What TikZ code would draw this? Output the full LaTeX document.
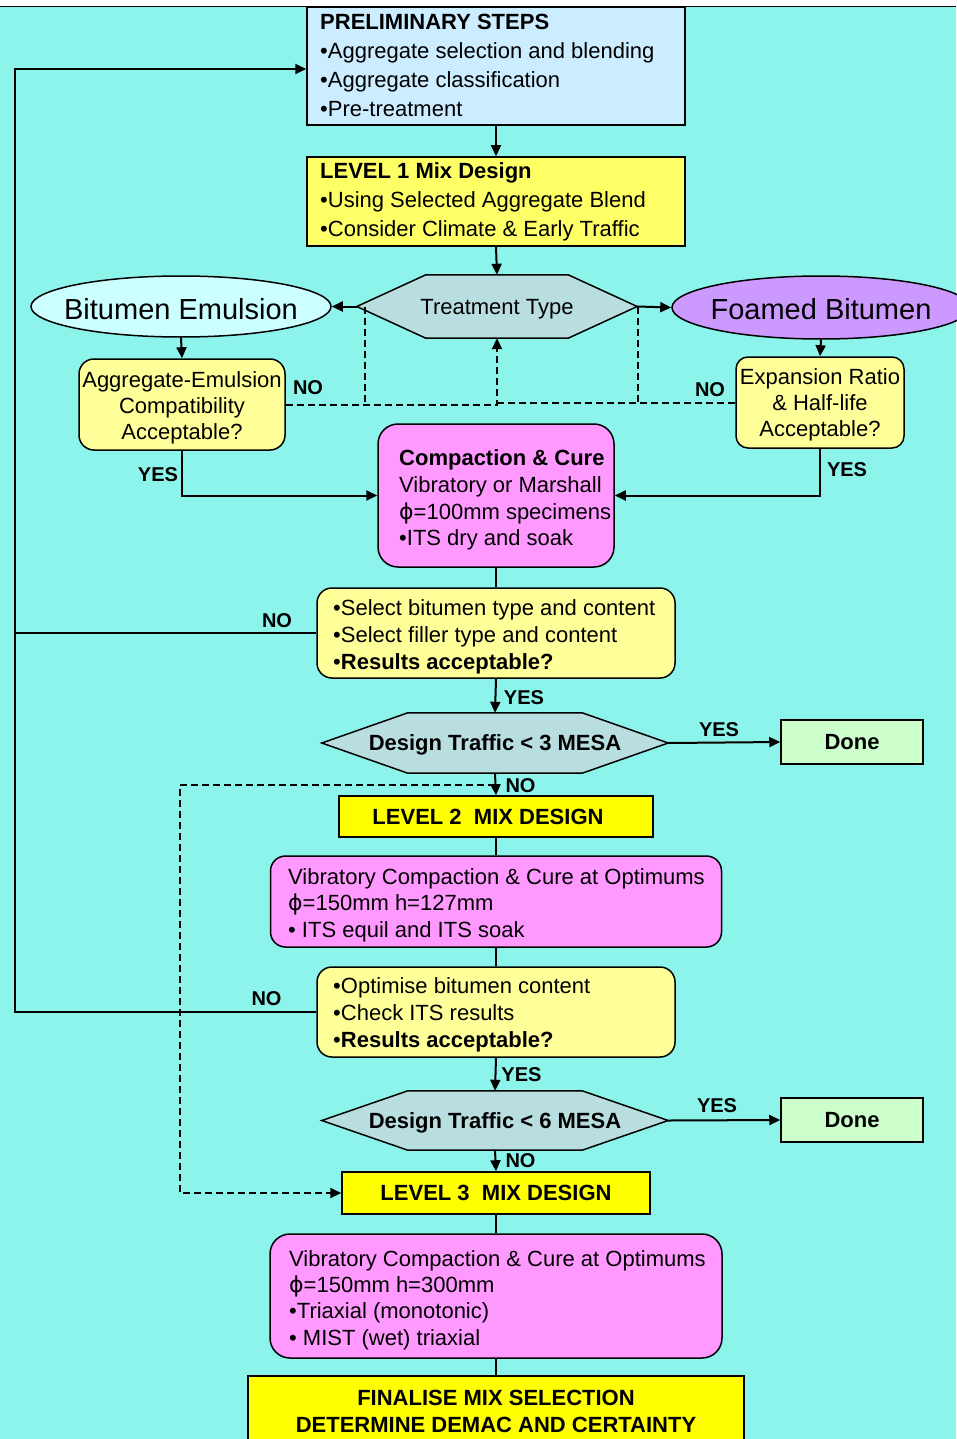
\documentclass[tikz,border=0pt]{standalone}
\usepackage{fontspec}
\setmainfont{Liberation Sans}
\newfontfamily\dejavu{DejaVu Sans}
\usetikzlibrary{arrows.meta,shapes.geometric,backgrounds,calc}
\definecolor{bgc}{RGB}{140,244,234}
\definecolor{prelimc}{RGB}{204,236,255}
\definecolor{lvlonec}{RGB}{255,255,102}
\definecolor{hexc}{RGB}{185,222,224}
\definecolor{bec}{RGB}{204,255,255}
\definecolor{fbc}{RGB}{204,153,255}
\definecolor{qc}{RGB}{255,255,153}
\definecolor{pinkc}{RGB}{255,153,255}
\definecolor{donec}{RGB}{204,255,204}
\definecolor{yelc}{RGB}{255,255,0}
\newcommand{\myphi}{{\dejavu ϕ}}
\newcommand{\mybody}{\fontsize{22}{29}\selectfont}
\newcommand{\mybig}{\fontsize{29}{34}\selectfont}
\newcommand{\myq}{\fontsize{22}{26}\selectfont}
\newcommand{\mycomp}{\fontsize{22}{26.7}\selectfont}
\newcommand{\mysel}{\fontsize{22}{27}\selectfont}
\newcommand{\myvib}{\fontsize{22}{26.4}\selectfont}
\newcommand{\mylab}{\fontsize{20}{24}\selectfont\bfseries}
\newcommand{\mybold}{\fontsize{22}{27}\selectfont\bfseries}
\begin{document}
\begin{tikzpicture}[x=1pt,y=-1pt,
  conn/.style={line width=2pt},
  arr/.style={conn,-{Triangle[length=11pt,width=10pt]}},
  dsh/.style={line width=2pt,dash pattern=on 7pt off 4pt},
  darr/.style={dsh,-{Triangle[length=11pt,width=10pt]}},
  box/.style={draw,line width=1.5pt,inner sep=0pt},
  rbox/.style={box,rounded corners=15pt},
  txt/.style={font=\mybody,align=left,inner sep=0pt,anchor=west},
  ctxt/.style={font=\myq,align=center,inner sep=0pt},
  lab/.style={font=\mylab,inner sep=0pt},
  hexnode/.style={font=\mybold,inner sep=0pt,text depth=0pt},
  hexfill/.style={fill=hexc,draw=black,line width=1.5pt}
]
\useasboundingbox (0,0) rectangle (956,1439);
\begin{scope}[on background layer]
  \fill[white] (0,0) rectangle (956,1439);
  \fill[bgc] (0,7) rectangle (956,1439);
  \draw[line width=1.7pt] (0,6.5) -- (956,6.5);
\end{scope}

% top boxes
\node[box,fill=prelimc,minimum width=378pt,minimum height=118pt] (prelim) at (496,66) {};
\node[txt] (prelimt) at (320,65.5) {\textbf{PRELIMINARY STEPS}\\•Aggregate selection and blending\\•Aggregate classification\\•Pre-treatment};
\node[box,fill=lvlonec,minimum width=378pt,minimum height=89pt] (lvl1) at (496,201.5) {};
\node[txt] (lvl1t) at (320,202) {\textbf{LEVEL 1 Mix Design}\\•Using Selected Aggregate Blend\\•Consider Climate \& Early Traffic};

% treatment type
\node[font=\mybody,inner sep=0pt,text depth=0pt,minimum width=280pt,minimum height=63pt] (tt) at (497,306.5) {Treatment Type};
\node[ellipse,draw,line width=1.5pt,fill=bec,inner sep=0pt,minimum width=300pt,minimum height=61pt] (be) at (181,306.5) {};
\node[font=\mybig,inner sep=0pt,text depth=0pt] (bet) at (181,308.5) {Bitumen Emulsion};
\node[ellipse,draw,line width=1.5pt,fill=fbc,inner sep=0pt,minimum width=298pt,minimum height=63pt] (fb) at (821,307.5) {};
\node[font=\mybig,inner sep=0pt,text depth=0pt] (fbt) at (821,309) {Foamed Bitumen};

\node[rbox,fill=qc,minimum width=206pt,minimum height=91pt] (ae) at (182,404.5) {};
\node[ctxt] (aet) at (182,407.5) {Aggregate-Emulsion\\Compatibility\\Acceptable?};
\node[rbox,rounded corners=12pt,fill=qc,minimum width=168pt,minimum height=91pt] (exp) at (820,402.5) {};
\node[ctxt] (expt) at (820,405) {Expansion Ratio\\\& Half-life\\Acceptable?};

\node[rbox,rounded corners=20pt,fill=pinkc,minimum width=236pt,minimum height=143pt] (comp) at (496,495.5) {};
\node[txt,font=\mycomp] (compt) at (399,500) {\textbf{Compaction \& Cure}\\Vibratory or Marshall\\\myphi=100mm specimens\\•ITS dry and soak};

\node[rbox,fill=qc,minimum width=358pt,minimum height=90pt] (sel) at (496,633) {};
\node[txt,font=\mysel] (selt) at (333,637) {•Select bitumen type and content\\•Select filler type and content\\•\textbf{Results acceptable?}};

\node[hexnode,minimum width=346pt,minimum height=60pt] (dt1) at (495,743) {Design Traffic < 3 MESA};
\node[box,fill=donec,minimum width=142pt,minimum height=44pt,font=\mybold,text depth=0pt] (done1) at (852,742) {Done};

\node[box,fill=yelc,minimum width=314pt,minimum height=41pt,font=\mybold,text depth=0pt] (lvl2) at (496,816.5) {LEVEL 2\ \ MIX DESIGN\rule{16pt}{0pt}};

\node[rbox,fill=pinkc,minimum width=451pt,minimum height=91pt] (vib2) at (496,901.5) {};
\node[txt,font=\myvib] (vib2t) at (288,905) {Vibratory Compaction \& Cure at Optimums\\\myphi=150mm h=127mm\\• ITS equil and ITS soak};

\node[rbox,fill=qc,minimum width=358pt,minimum height=90pt] (opt) at (496,1012) {};
\node[txt,font=\mysel] (optt) at (333,1015) {•Optimise bitumen content\\•Check ITS results\\•\textbf{Results acceptable?}};

\node[hexnode,minimum width=346pt,minimum height=59pt] (dt2) at (495,1120.5) {Design Traffic < 6 MESA};
\node[box,fill=donec,minimum width=142pt,minimum height=44pt,font=\mybold,text depth=0pt] (done2) at (852,1120) {Done};

\node[box,fill=yelc,minimum width=308pt,minimum height=42pt,font=\mybold,text depth=0pt] (lvl3) at (496,1193) {LEVEL 3\ \ MIX DESIGN};

\node[rbox,rounded corners=20pt,fill=pinkc,minimum width=452pt,minimum height=124pt] (vib3) at (496,1296) {};
\node[txt,font=\myvib] (vib3t) at (289,1300) {Vibratory Compaction \& Cure at Optimums\\\myphi=150mm h=300mm\\•Triaxial (monotonic)\\• MIST (wet) triaxial};

\node[box,fill=yelc,minimum width=496pt,minimum height=70pt,font=\mybold,align=center] (final) at (496,1411) {FINALISE MIX SELECTION\\DETERMINE DEMAC AND CERTAINTY};

% hexagon outlines
\begin{scope}[on background layer]
  \foreach \h/\d in {tt/69pt,dt1/86pt,dt2/86pt}{
    \filldraw[hexfill] (\h.west) -- ([xshift=\d]\h.north west) -- ([xshift=-\d]\h.north east) -- (\h.east) -- ([xshift=-\d]\h.south east) -- ([xshift=\d]\h.south west) -- cycle;
  }
\end{scope}

% coordinates for loops
\coordinate (lt) at (15,69);
\coordinate (dl) at (180,785);

% connectors
\draw[arr] (prelim.south) -- (lvl1.north);
\draw[arr] (lvl1.south) -- (tt.north);
\draw[arr] (tt.west) -- (be.east);
\draw[arr] (tt.east) -- (fb.west);
\draw[arr] (be.south) -- (ae.north);
\draw[arr] (fb.south) -- (exp.north);
\draw[darr] (ae.east) -- (ae.east -| tt.south) -- (tt.south);
\draw[dsh] (exp.west) -- (exp.west -| tt.south);
\draw[dsh] ([xshift=8pt]tt.west) -- ([xshift=8pt]tt.west |- ae.east);
\draw[dsh] ([xshift=1pt]tt.east) -- ([xshift=1pt]tt.east |- exp.west);
\draw[arr] (ae.south) |- (comp.west);
\draw[arr] (exp.south) |- (comp.east);
\draw[conn] (comp.south) -- (sel.north);
\draw[arr] (sel.west) -- (sel.west -| lt) -- (lt) -- (lt -| prelim.west);
\draw[conn] (opt.west) -- (opt.west -| lt) -- (lt |- sel.west);
\draw[arr] (sel.south) -- (dt1.north);
\draw[arr] (dt1.east) -- (done1.west);
\draw[arr] (dt1.south) -- (lvl2.north);
\draw[darr] (dl -| dt1.south) -- (dl) -- (dl |- lvl3.west) -- (lvl3.west);
\draw[conn] (lvl2.south) -- (vib2.north);
\draw[conn] (vib2.south) -- (opt.north);
\draw[arr] (opt.south) -- (dt2.north);
\draw[arr] (dt2.east) -- (done2.west);
\draw[arr] (dt2.south) -- (lvl3.north);
\draw[conn] (lvl3.south) -- (vib3.north);
\draw[conn] (vib3.south) -- (final.north);

% labels
\node[lab] (l1) at (308,388) {NO};
\node[lab] (l2) at (710,389.5) {NO};
\node[lab] (l3) at (158,475) {YES};
\node[lab] (l4) at (847,469.5) {YES};
\node[lab] (l5) at (277,620.5) {NO};
\node[lab] (l6) at (524,697.5) {YES};
\node[lab] (l7) at (719,729.5) {YES};
\node[lab] (l8) at (520.5,785.5) {NO};
\node[lab] (l9) at (266.5,998.5) {NO};
\node[lab] (l10) at (521.5,1075) {YES};
\node[lab] (l11) at (717,1105.5) {YES};
\node[lab] (l12) at (520.5,1160.5) {NO};
\end{tikzpicture}
\end{document}
